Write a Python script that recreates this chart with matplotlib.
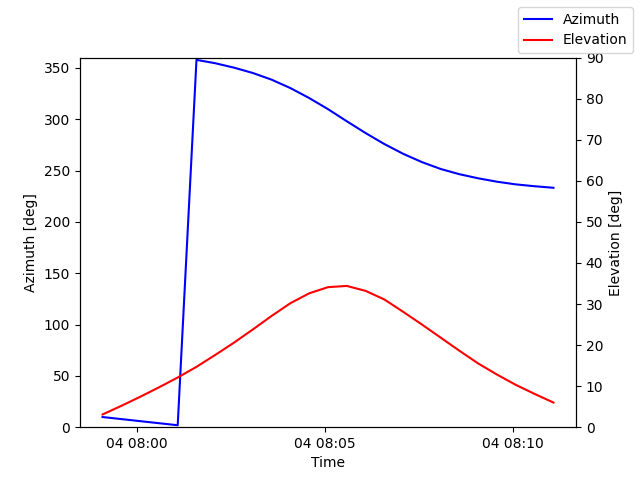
import matplotlib
matplotlib.use("Agg")
import matplotlib.pyplot as plt
import pandas as pd

# sample times (one every 30 s)
times = pd.to_datetime([
    "2024-03-04 07:59:05", "2024-03-04 07:59:35", "2024-03-04 08:00:05",
    "2024-03-04 08:00:35", "2024-03-04 08:01:05", "2024-03-04 08:01:35",
    "2024-03-04 08:02:05", "2024-03-04 08:02:35", "2024-03-04 08:03:05",
    "2024-03-04 08:03:35", "2024-03-04 08:04:05", "2024-03-04 08:04:35",
    "2024-03-04 08:05:05", "2024-03-04 08:05:35", "2024-03-04 08:06:05",
    "2024-03-04 08:06:35", "2024-03-04 08:07:05", "2024-03-04 08:07:35",
    "2024-03-04 08:08:05", "2024-03-04 08:08:35", "2024-03-04 08:09:05",
    "2024-03-04 08:09:35", "2024-03-04 08:10:05", "2024-03-04 08:10:35",
    "2024-03-04 08:11:05",
])

azimuth = [9.9, 7.9, 5.9, 3.9, 1.9, 357.8, 354.5, 350.2, 345.0, 338.5,
           330.3, 320.6, 309.8, 298.0, 286.5, 275.8, 266.3, 258.2, 251.5,
           246.4, 242.4, 239.1, 236.5, 234.7, 233.2]

elevation = [3.1, 5.2, 7.4, 9.7, 12.1, 14.7, 17.6, 20.6, 23.8, 27.1,
             30.2, 32.6, 34.1, 34.4, 33.2, 31.1, 28.1, 25.0, 21.8, 18.6,
             15.5, 12.8, 10.3, 8.1, 6.0]

fig, ax = plt.subplots(figsize=(6.4, 4.8), dpi=100)
ax.plot(times, azimuth, color='blue', label='Azimuth')
ax.set_ylim(0, 360)
ax.set_xlabel("Time")
ax.set_ylabel("Azimuth [deg]")

ax2 = ax.twinx()
ax2.plot(times, elevation, color='red', label='Elevation')
ax2.set_ylim(0, 90)
ax2.set_ylabel("Elevation [deg]")

fig.legend(loc='upper right')
fig.savefig("out.png")
